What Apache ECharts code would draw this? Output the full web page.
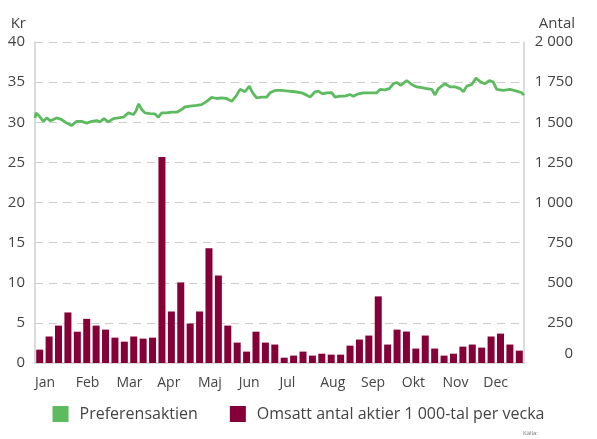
<!DOCTYPE html>
<html>
<head>
<meta charset="utf-8">
<script src="https://cdn.jsdelivr.net/npm/echarts@6/dist/echarts.min.js"></script>
<style>
  html, body { margin: 0; padding: 0; background: #fff; }
  #chart { width: 597px; height: 439px; }
</style>
</head>
<body>
<div id="chart"></div>
<script>
// månader på x-axeln (etiketten står vid månadens början)
const months = ['Jan', 'Feb', 'Mar', 'Apr', 'Maj', 'Jun', 'Jul', 'Aug', 'Sep', 'Okt', 'Nov', 'Dec', ''];

// omsatt antal aktier, 1 000-tal per vecka (vecka 1..52)
const volume = [
  83, 165, 233, 315, 195, 275, 233, 208, 158, 133,
  165, 152, 158, 1283, 321, 502, 246, 321, 715, 545,
  233, 127, 71, 195, 127, 115, 33, 46, 71, 46,
  58, 52, 52, 108, 146, 171, 415, 115, 208, 196,
  90, 171, 90, 46, 58, 102, 115, 96, 165, 183,
  115, 77
];

// preferensaktien, kurs i kr (position i veckor från årets början)
const priceWeek = [
  0, 0.11, 0.46, 0.89, 1.24, 1.6, 1.95, 2.3, 2.84, 3.37,
  3.9, 4.43, 4.96, 5.49, 6.03, 6.56, 6.91, 7.34, 7.8, 8.33,
  8.86, 9.39, 9.93, 10.46, 10.74, 11.02, 11.34, 11.7, 12.23, 12.76,
  13.12, 13.47, 14.0, 14.53, 15.07, 15.6, 15.95, 16.48, 17.19, 17.72,
  18.26, 18.79, 19.32, 19.85, 20.38, 20.91, 21.38, 21.8, 22.33, 22.79,
  23.15, 23.57, 24.1, 24.64, 24.99, 25.52, 26.23, 26.94, 27.65, 28.36,
  28.89, 29.25, 29.78, 30.13, 30.59, 31.02, 31.55, 31.9, 32.44, 32.97,
  33.5, 33.85, 34.39, 34.92, 35.63, 36.34, 36.69, 37.22, 37.68, 38.11,
  38.46, 38.89, 39.53, 40.06, 40.59, 41.12, 41.65, 42.18, 42.54, 42.89,
  43.6, 44.13, 44.67, 45.2, 45.55, 45.91, 46.44, 46.9, 47.4, 47.86,
  48.32, 48.74, 49.1, 49.81, 50.51, 51.22, 51.75, 52
];
const priceKr = [
  30.54, 31.17, 30.75, 30.1, 30.54, 30.2, 30.33, 30.54, 30.33, 29.9,
  29.6, 30.1, 30.1, 29.9, 30.1, 30.2, 30.04, 30.46, 30.04, 30.46,
  30.54, 30.63, 31.17, 30.96, 31.4, 32.3, 31.6, 31.17, 31.08, 31.04,
  30.63, 31.17, 31.17, 31.25, 31.25, 31.6, 31.9, 32.0, 32.1, 32.2,
  32.6, 33.1, 32.96, 33.04, 32.96, 32.6, 33.25, 34.1, 33.8, 34.5,
  33.67, 33.04, 33.13, 33.13, 33.67, 33.96, 33.96, 33.88, 33.8, 33.67,
  33.38, 33.13, 33.8, 33.88, 33.54, 33.67, 33.7, 33.13, 33.25, 33.25,
  33.46, 33.25, 33.54, 33.67, 33.67, 33.67, 34.1, 34.04, 34.2, 34.8,
  34.96, 34.6, 35.2, 34.7, 34.4, 34.3, 34.2, 34.1, 33.4, 34.2,
  34.8, 34.4, 34.4, 34.2, 33.8, 34.5, 34.7, 35.5, 35.0, 34.8,
  35.2, 35.0, 34.1, 33.96, 34.1, 33.88, 33.67, 33.38
];

const krTicks = { min: 0, max: 40, interval: 5 };
const antalTicks = { min: 0, max: 2000, interval: 250 };

const textColor = '#444';
const font = 'Open Sans';

let chart = echarts.init(document.getElementById('chart'), null, { renderer: 'canvas' });

// tusentalsavgränsare med mellanslag
function fmtSpace(v) {
  return String(v).replace(/\B(?=(\d{3})+(?!\d))/g, ' ');
}

let option = {
  animation: false,
  backgroundColor: '#fff',
  textStyle: { fontFamily: font },
  grid: { left: 35, right: 73, top: 42, bottom: 76 },
  legend: {
    top: 401,
    left: 'center',
    icon: 'rect',
    itemWidth: 16,
    itemHeight: 16,
    itemGap: 32,
    textStyle: { fontSize: 16, color: textColor, fontFamily: font, padding: [0, 0, 0, 6] },
    data: ['Preferensaktien', 'Omsatt antal aktier 1 000-tal per vecka']
  },
  graphic: [
    { type: 'text', x: 26, y: 16, style: { text: 'Kr', textAlign: 'right', fill: textColor, font: '15px "Open Sans"' } },
    { type: 'text', x: 575, y: 16, style: { text: 'Antal', textAlign: 'right', fill: textColor, font: '15px "Open Sans"' } },
    { type: 'text', x: 523, y: 430, style: { text: 'Källa:', fill: '#777', font: '6px "Open Sans"' } }
  ],
  xAxis: [
    {
      type: 'value',
      min: 0,
      max: 52,
      show: false
    },
    {
      type: 'category',
      data: months,
      position: 'bottom',
      boundaryGap: false,
      axisTick: { show: false },
      axisLine: { show: true, lineStyle: { color: '#d9d9d9', width: 2 } },
      axisLabel: { color: textColor, fontSize: 14, margin: 13, fontFamily: font, interval: 0, align: 'left' },
      splitLine: { show: false }
    }
  ],
  yAxis: [
    {
      type: 'value',
      position: 'left',
      min: krTicks.min,
      max: krTicks.max,
      interval: krTicks.interval,
      axisLine: { show: true, lineStyle: { color: '#cfcfcf', width: 1.5 } },
      axisTick: { show: false },
      axisLabel: { color: textColor, fontSize: 15, margin: 10, fontFamily: font },
      splitLine: { show: true, lineStyle: { color: '#cccccc', type: [8, 6], width: 1 } }
    },
    {
      type: 'value',
      position: 'right',
      min: antalTicks.min,
      max: antalTicks.max,
      interval: antalTicks.interval,
      axisLine: { show: true, lineStyle: { color: '#cfcfcf', width: 1.5 } },
      axisTick: { show: false },
      axisLabel: {
        color: textColor,
        fontSize: 15,
        margin: 49,
        align: 'right',
        fontFamily: font,
        formatter: (v) => v === 0 ? '{z|0}' : fmtSpace(v),
        rich: { z: { color: textColor, fontSize: 15, fontFamily: font, padding: [0, 0, 18, 0] } }
      },
      splitLine: { show: false }
    }
  ],
  series: [
    {
      name: 'Omsatt antal aktier 1 000-tal per vecka',
      type: 'bar',
      xAxisIndex: 0,
      yAxisIndex: 1,
      barWidth: 7,
      itemStyle: { color: '#850037' },
      data: volume.map((v, i) => [i + 0.5, v]),
      z: 2
    },
    {
      name: 'Preferensaktien',
      type: 'line',
      xAxisIndex: 0,
      yAxisIndex: 0,
      symbol: 'none',
      smooth: false,
      lineStyle: { color: '#5cbb5e', width: 2.8 },
      itemStyle: { color: '#5cbb5e' },
      data: priceWeek.map((w, i) => [w, priceKr[i]]),
      z: 3
    }
  ]
};

chart.setOption(option);
</script>
</body>
</html>
